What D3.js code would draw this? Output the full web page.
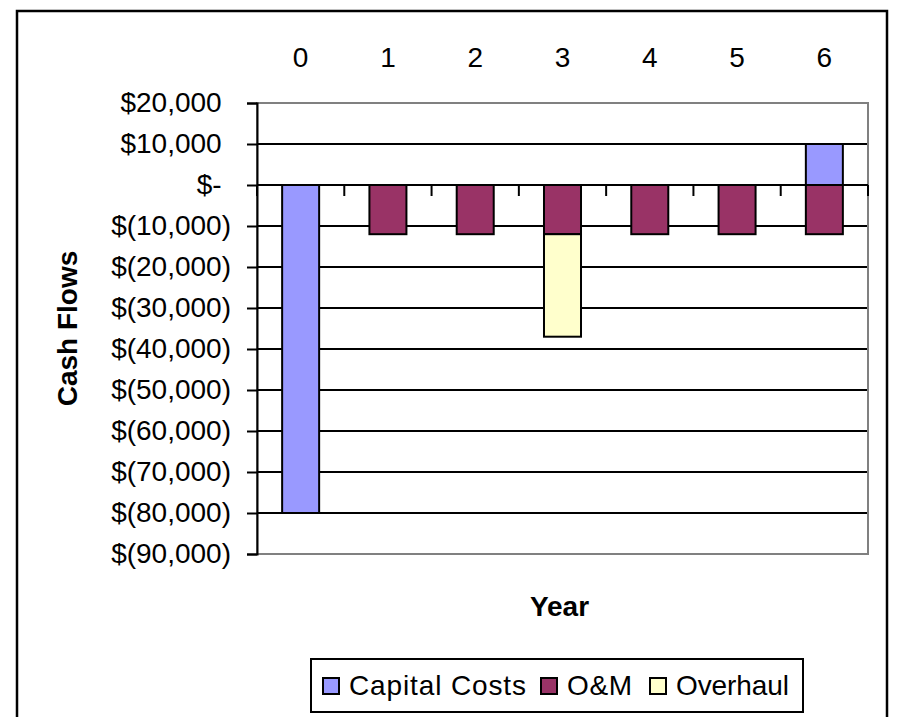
<!DOCTYPE html>
<html>
<head>
<meta charset="utf-8">
<script src="https://cdn.jsdelivr.net/npm/d3@7"></script>
<style>
    body { margin: 0; background: #fff; }
    text { font-family: "Liberation Sans", Arial, sans-serif; }
</style>
</head>
<body>
<svg id="chart" width="919" height="717"></svg>
<script>
// Data
const years = ['0', '1', '2', '3', '4', '5', '6'];
const capitalCosts = [-80000, 0, 0, 0, 0, 0, 10000];
const omCosts = [0, -12000, -12000, -12000, -12000, -12000, -12000];
const overhaulCosts = [0, 0, 0, -25000, 0, 0, 0];
const seriesNames = ['Capital Costs', 'O&M', 'Overhaul'];
const seriesColors = ['#9999ff', '#993366', '#ffffcc'];
const yTicks = [20000, 10000, 0, -10000, -20000, -30000, -40000, -50000, -60000, -70000, -80000, -90000];

const svg = d3.select('#chart');

// Outer chart border
svg.append('rect')
    .attr('x', 17).attr('y', 11)
    .attr('width', 870).attr('height', 730)
    .attr('fill', 'none')
    .attr('stroke', '#000')
    .attr('stroke-width', 2.5);

const plot = {left: 257, right: 868, top: 103, bottom: 554};

let x = d3.scaleBand()
    .domain(years)
    .range([plot.left, plot.right])
    .paddingInner(0.576)
    .paddingOuter(0.288);

let y = d3.scaleLinear()
    .domain([-90000, 20000])
    .range([plot.bottom, plot.top]);

// Build a table for d3.stack
let table = years.map((yr, i) => ({
    year: yr,
    'Capital Costs': capitalCosts[i],
    'O&M': omCosts[i],
    'Overhaul': overhaulCosts[i]
}));
let stacked = d3.stack()
    .keys(seriesNames)
    .offset(d3.stackOffsetDiverging)(table);

// Gridlines (black, inside the plot)
svg.append('g')
    .selectAll('line')
    .data(yTicks.slice(1, -1))
    .join('line')
    .attr('x1', plot.left).attr('x2', plot.right)
    .attr('y1', d => y(d)).attr('y2', d => y(d))
    .attr('stroke', '#000')
    .attr('stroke-width', 2);

// Bars
svg.append('g')
    .selectAll('g')
    .data(stacked)
    .join('g')
    .attr('fill', (d, i) => seriesColors[i])
    .selectAll('rect')
    .data(d => d.filter(p => p[0] !== p[1]))
    .join('rect')
    .attr('x', d => x(d.data.year))
    .attr('width', x.bandwidth())
    .attr('y', d => y(Math.max(d[0], d[1])))
    .attr('height', d => Math.abs(y(d[0]) - y(d[1])))
    .attr('stroke', '#000')
    .attr('stroke-width', 2);

// Plot area border (gray)
svg.append('rect')
    .attr('x', plot.left).attr('y', plot.top)
    .attr('width', plot.right - plot.left)
    .attr('height', plot.bottom - plot.top)
    .attr('fill', 'none')
    .attr('stroke', '#808080')
    .attr('stroke-width', 2);

// Y axis, accounting style labels
let fmt = d3.format(',');
let yAxis = d3.axisLeft(y)
    .tickValues(yTicks)
    .tickSize(10)
    .tickPadding(16)
    .tickFormat(v => v > 0 ? '$' + fmt(v) : v === 0 ? '$-' : '$(' + fmt(-v) + ')');

let yg = svg.append('g')
    .attr('transform', `translate(${plot.left},0)`)
    .call(yAxis);
yg.select('.domain').attr('stroke', '#000').attr('stroke-width', 2);
yg.selectAll('.tick line').attr('stroke', '#000').attr('stroke-width', 2);
yg.selectAll('.tick text')
    .attr('font-size', 28)
    .attr('fill', '#000')
    .attr('font-family', '"Liberation Sans", Arial, sans-serif')
    .each(function(v) {
        // keep room for the closing paren so digits line up
        if (v >= 0)
            d3.select(this).append('tspan').attr('fill', 'transparent').text(')');
    });

// X axis along zero, ticks between categories
let y0 = y(0);
svg.append('g')
    .selectAll('line')
    .data(d3.range(years.length + 1))
    .join('line')
    .attr('x1', i => plot.left + i * x.step())
    .attr('x2', i => plot.left + i * x.step())
    .attr('y1', y0).attr('y2', y0 + 11)
    .attr('stroke', '#000')
    .attr('stroke-width', 2);
svg.append('line')
    .attr('x1', plot.left).attr('x2', plot.right)
    .attr('y1', y0).attr('y2', y0)
    .attr('stroke', '#000')
    .attr('stroke-width', 2);

// Category labels at the top
svg.append('g')
    .selectAll('text')
    .data(years)
    .join('text')
    .attr('x', d => x(d) + x.bandwidth() / 2)
    .attr('y', 67)
    .attr('text-anchor', 'middle')
    .attr('font-size', 28)
    .text(d => d);

// Axis titles
svg.append('text')
    .attr('transform', `translate(77,${(plot.top + plot.bottom) / 2}) rotate(-90)`)
    .attr('text-anchor', 'middle')
    .attr('font-size', 28)
    .attr('font-weight', 'bold')
    .text('Cash Flows');

svg.append('text')
    .attr('x', (plot.left + plot.right) / 2 - 3)
    .attr('y', 616)
    .attr('text-anchor', 'middle')
    .attr('font-size', 28)
    .attr('font-weight', 'bold')
    .text('Year');

// Legend
svg.append('rect')
    .attr('x', 311).attr('y', 659)
    .attr('width', 492).attr('height', 53)
    .attr('fill', '#fff')
    .attr('stroke', '#000')
    .attr('stroke-width', 2);

let legendX = [323, 541, 650];
let legendW = [177, 65, 113];
seriesNames.forEach((name, i) => {
    svg.append('rect')
        .attr('x', legendX[i]).attr('y', 678)
        .attr('width', 16).attr('height', 16)
        .attr('fill', seriesColors[i])
        .attr('stroke', '#000')
        .attr('stroke-width', 2);
    svg.append('text')
        .attr('x', legendX[i] + 26)
        .attr('y', 695)
        .attr('font-size', 28)
        .attr('textLength', legendW[i])
        .attr('lengthAdjust', 'spacing')
        .text(name);
});
</script>
</body>
</html>
